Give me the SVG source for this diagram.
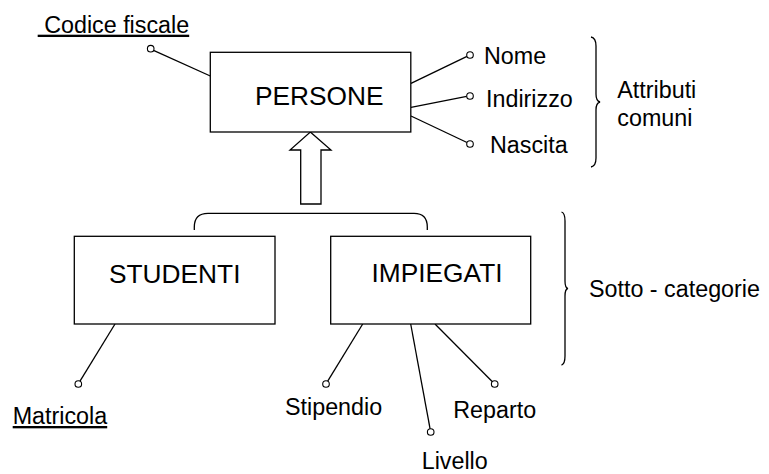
<svg xmlns="http://www.w3.org/2000/svg" width="769" height="474" viewBox="0 0 769 474">
<style>
.box{fill:#fff;stroke:#000;stroke-width:1.3}
.ent{font-family:"Liberation Sans",Arial,sans-serif;font-size:26.3px;fill:#000}
.att{font-family:"Liberation Sans",Arial,sans-serif;font-size:23.3px;fill:#000}
.ln{stroke:#000;stroke-width:1.3;fill:none}
.dot{fill:#fff;stroke:#000;stroke-width:1.1}
</style>
<rect width="769" height="474" fill="#fff"/>
<g id="connectors">
<line class="ln" x1="153.5" y1="50.3" x2="210.3" y2="76"/>
<line class="ln" x1="411" y1="83.3" x2="467" y2="56.4"/>
<line class="ln" x1="411" y1="107.3" x2="466.7" y2="96.4"/>
<line class="ln" x1="411" y1="116" x2="467" y2="142.5"/>
<line class="ln" x1="115" y1="324" x2="80" y2="381.2"/>
<line class="ln" x1="362.7" y1="324" x2="327.7" y2="381.2"/>
<line class="ln" x1="410.7" y1="324" x2="430.1" y2="428.8"/>
<line class="ln" x1="435" y1="324" x2="492.4" y2="381.7"/>
<polygon class="box" points="310.3,132 331,150 321,150 321,204 300.7,204 300.7,150 290,150"/>
<path class="ln" d="M194.3,230 L194.3,227 Q194.3,213.3 208,213.3 L414,213.3 Q427.3,213.3 427.3,227 L427.3,230"/>
<circle class="dot" cx="150.7" cy="48.7" r="3.3"/>
<circle class="dot" cx="470" cy="55" r="3.3"/>
<circle class="dot" cx="470" cy="96" r="3.3"/>
<circle class="dot" cx="470" cy="144" r="3.3"/>
<circle class="dot" cx="78.3" cy="384" r="3.3"/>
<circle class="dot" cx="326" cy="384" r="3.3"/>
<circle class="dot" cx="430.7" cy="432" r="3.3"/>
<circle class="dot" cx="494.7" cy="384" r="3.3"/>
</g>
<g id="persone">
<rect class="box" x="210.3" y="52.3" width="200.5" height="79.7"/>
<text class="ent" x="255" y="105.3">PERSONE</text>
</g>
<g id="studenti">
<rect class="box" x="74.3" y="236.3" width="200.7" height="87.7"/>
<text class="ent" x="109" y="282.7">STUDENTI</text>
</g>
<g id="impiegati">
<rect class="box" x="330.7" y="236.3" width="200" height="87.7"/>
<text class="ent" x="371.5" y="281.7">IMPIEGATI</text>
</g>
<g id="attributes">
<text class="att" x="37.7" y="32.7" xml:space="preserve" text-decoration="underline"> Codice fiscale</text>
<text class="att" x="484" y="64">Nome</text>
<text class="att" x="486" y="107">Indirizzo</text>
<text class="att" x="490" y="153">Nascita</text>
<text class="att" x="12.7" y="424" text-decoration="underline">Matricola</text>
<text class="att" x="285" y="415">Stipendio</text>
<text class="att" x="453.3" y="418.3">Reparto</text>
<text class="att" x="421.7" y="468.8">Livello</text>
</g>
<g id="braces">
<path class="ln" d="M591,37 Q596,38 596,46 L596,94 Q596,101 600,102 Q596,103 596,110 L596,158 Q596,166 591,167"/>
<text class="att" x="617.3" y="98.3">Attributi</text>
<text class="att" x="617.3" y="126">comuni</text>
<path class="ln" d="M561.5,212 Q565,213 565,221 L565,281 Q565,288 568,288.5 Q565,289 565,296 L565,356 Q565,364 561.5,365"/>
<text class="att" x="589" y="296.7">Sotto - categorie</text>
</g>
</svg>
